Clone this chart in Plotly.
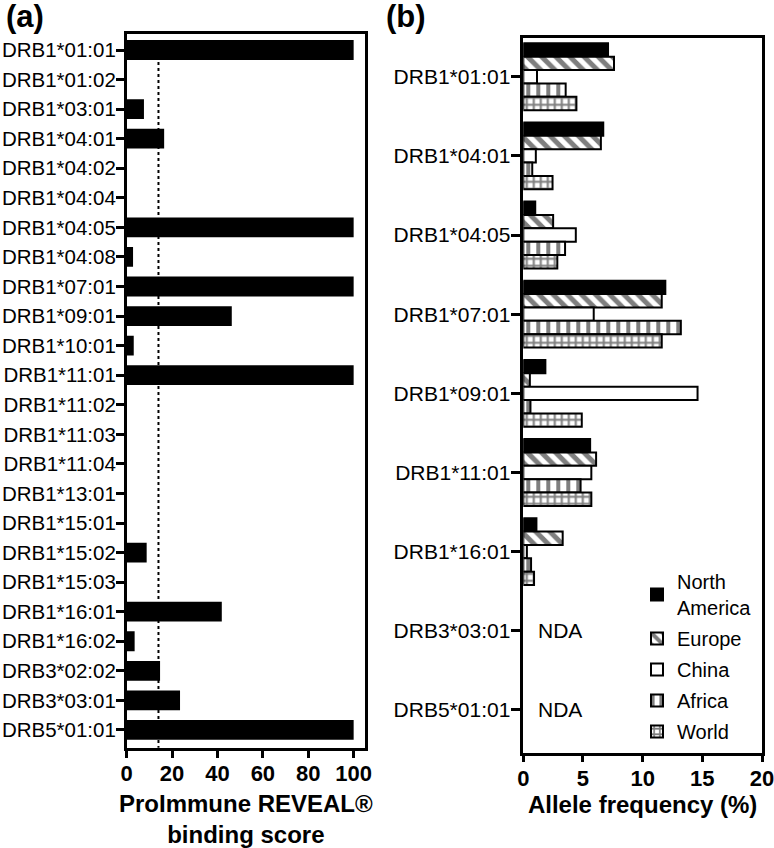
import plotly.graph_objects as go

# ---------------- data ----------------
alleles_a = ["DRB1*01:01", "DRB1*01:02", "DRB1*03:01", "DRB1*04:01", "DRB1*04:02",
             "DRB1*04:04", "DRB1*04:05", "DRB1*04:08", "DRB1*07:01", "DRB1*09:01",
             "DRB1*10:01", "DRB1*11:01", "DRB1*11:02", "DRB1*11:03", "DRB1*11:04",
             "DRB1*13:01", "DRB1*15:01", "DRB1*15:02", "DRB1*15:03", "DRB1*16:01",
             "DRB1*16:02", "DRB3*02:02", "DRB3*03:01", "DRB5*01:01"]
binding_score = [100, 0, 7.6, 16.5, 0, 0, 100, 2.8, 100, 46.3, 3.1, 100, 0, 0, 0,
                 0, 0, 8.8, 0, 41.9, 3.5, 14.7, 23.5, 100]
threshold = 14

alleles_b = ["DRB1*01:01", "DRB1*04:01", "DRB1*04:05", "DRB1*07:01", "DRB1*09:01",
             "DRB1*11:01", "DRB1*16:01", "DRB3*03:01", "DRB5*01:01"]
north_america = [7.1, 6.7, 1.0, 11.9, 1.85, 5.6, 1.1, None, None]
europe        = [7.6, 6.5, 2.5, 11.6, 0.55, 6.1, 3.3, None, None]
china         = [1.15, 1.05, 4.4, 5.9, 14.6, 5.7, 0.3, None, None]
africa        = [3.55, 0.75, 3.5, 13.2, 0.6, 4.8, 0.65, None, None]
world         = [4.45, 2.45, 2.85, 11.6, 4.9, 5.7, 0.9, None, None]
nda_alleles = ["DRB3*03:01", "DRB5*01:01"]

FONT = "Liberation Sans, Arial, sans-serif"
W, H = 774, 848

fig = go.Figure()

# panel (a)
fig.add_trace(go.Bar(
    x=binding_score, y=alleles_a, orientation="h", width=0.67,
    marker=dict(color="black", line=dict(width=0)),
    xaxis="x", yaxis="y", showlegend=False))

# panel (b)
series = [
    ("North<br>America", north_america, dict(color="black", line=dict(color="black", width=2))),
    ("Europe", europe, dict(color="white", line=dict(color="black", width=2),
                            pattern=dict(shape="\\", fgcolor="black", bgcolor="white",
                                         size=10, solidity=0.5, fillmode="overlay"))),
    ("China", china, dict(color="white", line=dict(color="black", width=2))),
    ("Africa", africa, dict(color="white", line=dict(color="black", width=2),
                            pattern=dict(shape="|", fgcolor="black", bgcolor="white",
                                         size=10, solidity=0.4, fillmode="overlay"))),
    ("World", world, dict(color="white", line=dict(color="black", width=2),
                          pattern=dict(shape="+", fgcolor="black", bgcolor="white",
                                       size=7, solidity=0.5, fillmode="overlay"))),
]
for i, (name, vals, marker) in enumerate(series):
    fig.add_trace(go.Bar(x=vals, y=alleles_b, orientation="h", name=name,
                         legendgroup=f"g{i}", marker=marker, xaxis="x2", yaxis="y2"))

# threshold dotted line
fig.add_shape(type="line", xref="x", yref="y", x0=threshold, x1=threshold,
              y0=0, y1=len(alleles_a) - 1 + 0.6,
              line=dict(color="black", width=2, dash="dot"), layer="below")

for a in nda_alleles:
    fig.add_annotation(x=3.08, y=a, xref="x2", yref="y2", text="NDA", showarrow=False,
                       font=dict(size=21, color="black", family=FONT))

for txt, xp in [("(a)", 4), ("(b)", 384)]:
    fig.add_annotation(x=xp / W, y=1 - 17 / H, xref="paper", yref="paper",
                       text=f"<b>{txt}</b>", showarrow=False, xanchor="left",
                       yanchor="middle", font=dict(size=31, color="black", family=FONT))

axis_common = dict(showline=True, linecolor="black", linewidth=2.5, mirror=True,
                   showgrid=False, zeroline=False, ticks="outside", tickcolor="black",
                   tickwidth=2.5, automargin=False, ticklabeloverflow="allow")

fig.update_layout(
    width=W, height=H, margin=dict(l=0, r=0, t=0, b=0),
    paper_bgcolor="white", plot_bgcolor="white",
    font=dict(family=FONT, color="black"),
    barmode="group", bargap=0.155, bargroupgap=0,
    xaxis=dict(**axis_common, domain=[126.7 / W, 365 / W], range=[0, 105],
               tickvals=[0, 20, 40, 60, 80, 100], ticklen=7, anchor="y",
               ticklabelstandoff=-3,
               tickfont=dict(size=22, family=FONT, weight="bold"),
               title=dict(text="<b>ProImmune REVEAL®<br>binding score</b>",
                          font=dict(size=24, family=FONT), standoff=11)),
    yaxis=dict(**axis_common, domain=[1 - 748 / H, 1 - 33.5 / H], anchor="x",
               type="category", categoryorder="array", categoryarray=alleles_a,
               range=[23.61, -0.558], ticklen=8, ticklabelstandoff=-4,
               tickfont=dict(size=20.5, family=FONT)),
    xaxis2=dict(**axis_common, domain=[523.3 / W, 762 / W], range=[0, 20],
                tickvals=[0, 5, 10, 15, 20], ticklen=7, anchor="y2",
                ticklabelstandoff=-3,
                tickfont=dict(size=22, family=FONT, weight="bold"),
                title=dict(text="<b>Allele frequency (%)</b>",
                           font=dict(size=24, family=FONT), standoff=5)),
    yaxis2=dict(**axis_common, domain=[1 - 752.7 / H, 1 - 38.3 / H], anchor="x2",
                type="category", categoryorder="array", categoryarray=alleles_b,
                range=[8.54, -0.485], ticklen=10, ticklabelstandoff=-4,
                tickfont=dict(size=21, family=FONT)),
    legend=dict(x=0.823, y=1 - 562 / H, xanchor="left", yanchor="top",
                font=dict(size=20, family=FONT, color="black"),
                bgcolor="rgba(0,0,0,0)", traceorder="grouped", tracegroupgap=2),
)

fig.write_html(
    "out.html",
    config={"displayModeBar": False},
    post_script=("document.documentElement.style.margin='0';"
                 "document.documentElement.style.overflow='hidden';"
                 "document.body.style.margin='0';"
                 "document.body.style.overflow='hidden';"),
)
